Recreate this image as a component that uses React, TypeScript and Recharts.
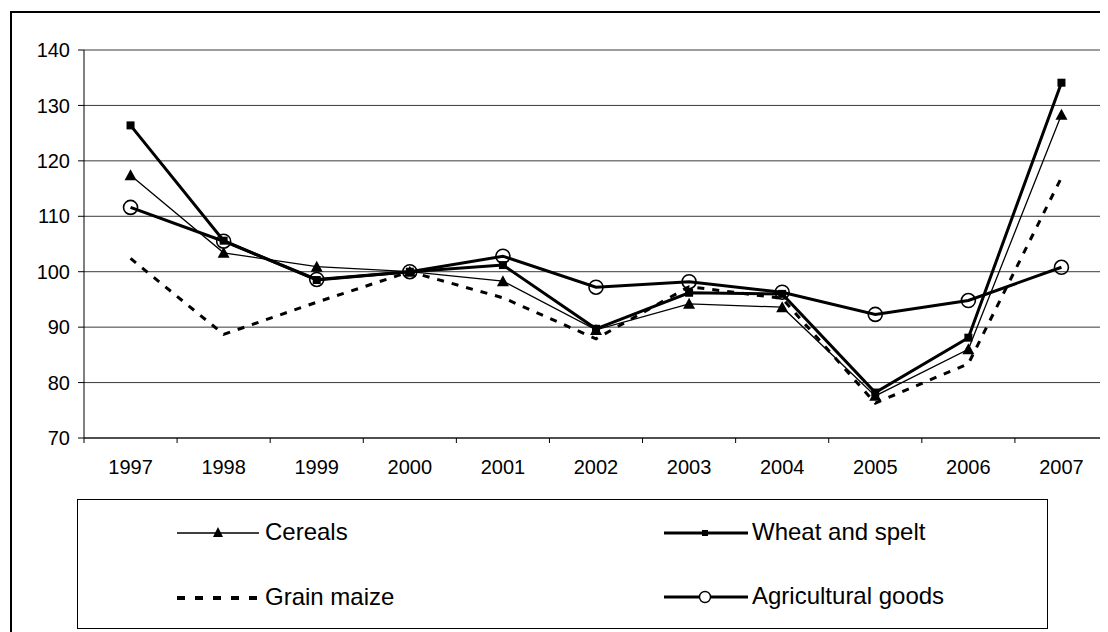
import React from "react";
import { LineChart, Line, XAxis, YAxis, CartesianGrid } from "recharts";

const years = ["1997", "1998", "1999", "2000", "2001", "2002", "2003", "2004", "2005", "2006", "2007"];
const cereals = [117.4, 103.4, 100.9, 100, 98.3, 89.5, 94.2, 93.6, 77.6, 86, 128.3];
const wheatAndSpelt = [126.4, 105.6, 98.5, 100, 101.2, 89.7, 96.2, 96, 78.2, 88.1, 134.1];
const grainMaize = [102.4, 88.7, 94.5, 100, 95.3, 87.9, 97.3, 95.2, 76.3, 83.4, 117];
const agriculturalGoods = [111.6, 105.5, 98.6, 100, 102.8, 97.2, 98.2, 96.3, 92.3, 94.8, 100.8];
const yTicks = [70, 80, 90, 100, 110, 120, 130, 140];

const chartData = years.map((year, i) => ({
  year,
  "Cereals": cereals[i],
  "Wheat and spelt": wheatAndSpelt[i],
  "Grain maize": grainMaize[i],
  "Agricultural goods": agriculturalGoods[i],
}));

const FONT = "'Liberation Sans', Arial, sans-serif";
const PLOT_W = 1024;
const HALF_BAND = PLOT_W / years.length / 2;

const XTick = (props: any) => {
  const { x, y, payload, index } = props;
  return (
    <g>
      <line x1={x - HALF_BAND} x2={x - HALF_BAND} y1={y} y2={y + 5} stroke="#000" />
      {index === years.length - 1 && (
        <line x1={x + HALF_BAND} x2={x + HALF_BAND} y1={y} y2={y + 5} stroke="#000" />
      )}
      <text x={x} y={y + 22} dy="0.71em" textAnchor="middle" fontSize={20} fontFamily={FONT} fill="#000">
        {payload.value}
      </text>
    </g>
  );
};

const Triangle = (props: any) => {
  const { cx, cy, index } = props;
  if (cx == null || cy == null) return <g key={index} />;
  return <path key={index} d={`M${cx},${cy - 6} L${cx + 6},${cy + 5} L${cx - 6},${cy + 5} Z`} fill="#000" />;
};

const Square = (props: any) => {
  const { cx, cy, index } = props;
  if (cx == null || cy == null) return <g key={index} />;
  return <rect key={index} x={cx - 4} y={cy - 4} width={8} height={8} fill="#000" />;
};

const Circle = (props: any) => {
  const { cx, cy, index } = props;
  if (cx == null || cy == null) return <g key={index} />;
  return <circle key={index} cx={cx} cy={cy} r={7} fill="none" stroke="#000" strokeWidth={1.6} />;
};

const LegendSample = (props: { kind: string }) => {
  const { kind } = props;
  return (
    <svg width={84} height={16} style={{ position: "absolute", left: 0, top: -8 }}>
      {kind === "cereals" && (
        <>
          <line x1={0} x2={82} y1={8} y2={8} stroke="#000" strokeWidth={1.3} />
          <path d="M41,2 L46,12 L36,12 Z" fill="#000" />
        </>
      )}
      {kind === "wheat" && (
        <>
          <line x1={0} x2={84} y1={8} y2={8} stroke="#000" strokeWidth={3} />
          <rect x={38} y={5} width={6} height={6} fill="#000" />
        </>
      )}
      {kind === "maize" && (
        <line x1={0} x2={80} y1={8} y2={8} stroke="#000" strokeWidth={4} strokeDasharray="8 10" />
      )}
      {kind === "agri" && (
        <>
          <line x1={0} x2={84} y1={8} y2={8} stroke="#000" strokeWidth={3} />
          <circle cx={41} cy={8} r={5.5} fill="#fff" stroke="#000" strokeWidth={1.4} />
        </>
      )}
    </svg>
  );
};

const legendItems = [
  { name: "Cereals", kind: "cereals", left: 99, top: 33 },
  { name: "Wheat and spelt", kind: "wheat", left: 586, top: 33 },
  { name: "Grain maize", kind: "maize", left: 99, top: 98 },
  { name: "Agricultural goods", kind: "agri", left: 586, top: 97 },
];

const App = () => {
  return (
    <div style={{ position: "relative", width: 1100, height: 624, overflow: "hidden", background: "#fff" }}>
      <div
        style={{
          position: "absolute",
          left: 2,
          top: 3,
          width: 1200,
          height: 700,
          borderLeft: "2px solid #000",
          borderTop: "2px solid #000",
        }}
      />
      <div style={{ position: "absolute", left: 0, top: 0 }}>
        <LineChart width={1100} height={624} data={chartData} margin={{ top: 42, right: 0, left: 0, bottom: 150 }}>
          <CartesianGrid horizontal vertical={false} stroke="#3a3a3a" yAxisId="l" />
          <XAxis
            dataKey="year"
            height={44}
            padding={{ left: HALF_BAND, right: HALF_BAND }}
            tickLine={false}
            tickSize={0}
            tickMargin={0}
            axisLine={{ stroke: "#000" }}
            tick={<XTick />}
            interval={0}
          />
          <YAxis
            yAxisId="l"
            domain={[70, 140]}
            ticks={yTicks}
            width={76}
            tickSize={6}
            tickMargin={8}
            axisLine={{ stroke: "#000" }}
            tickLine={{ stroke: "#000" }}
            tick={{ fill: "#000", fontSize: 20, fontFamily: FONT }}
          />
          <YAxis
            yAxisId="r"
            orientation="right"
            domain={[70, 140]}
            width={0}
            tick={false}
            tickLine={false}
            axisLine={{ stroke: "#000" }}
          />
          <Line yAxisId="l" type="linear" dataKey="Cereals" stroke="#000" strokeWidth={1.3} dot={Triangle} activeDot={false} isAnimationActive={false} />
          <Line yAxisId="l" type="linear" dataKey="Wheat and spelt" stroke="#000" strokeWidth={3} dot={Square} activeDot={false} isAnimationActive={false} />
          <Line yAxisId="l" type="linear" dataKey="Grain maize" stroke="#000" strokeWidth={3} strokeDasharray="7 8" dot={false} activeDot={false} isAnimationActive={false} />
          <Line yAxisId="l" type="linear" dataKey="Agricultural goods" stroke="#000" strokeWidth={3} dot={Circle} activeDot={false} isAnimationActive={false} />
        </LineChart>
      </div>
      <div
        style={{
          position: "absolute",
          left: 69,
          top: 491,
          width: 969,
          height: 128,
          border: "1px solid #000",
          fontFamily: FONT,
          fontSize: 24,
        }}
      >
        {legendItems.map((item) => (
          <div key={item.name} style={{ position: "absolute", left: item.left, top: item.top }}>
            <LegendSample kind={item.kind} />
            <span
              style={{
                position: "absolute",
                left: 88,
                top: -15,
                whiteSpace: "nowrap",
                lineHeight: "28px",
                color: "#000",
              }}
            >
              {item.name}
            </span>
          </div>
        ))}
      </div>
    </div>
  );
};

export default App;
